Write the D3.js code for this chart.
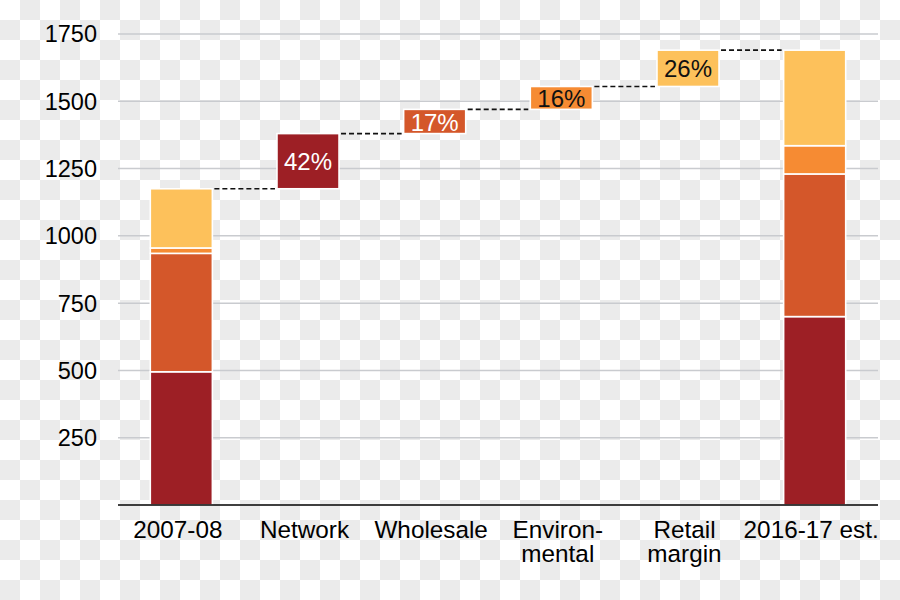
<!DOCTYPE html>
<html>
<head>
<meta charset="utf-8">
<script src="https://cdn.jsdelivr.net/npm/d3@7"></script>
<style>
  html, body { margin: 0; padding: 0; background: #fff; }
  svg { display: block; }
  text { font-family: "Liberation Sans", Arial, sans-serif; }
</style>
</head>
<body>
<svg id="chart" width="900" height="600"></svg>
<script>
// ---- Data ----
const categories = ["2007-08", "Network", "Wholesale", "Environ-\nmental", "Retail\nmargin", "2016-17 est."];
const components = ["Network", "Wholesale", "Environmental", "Retail margin"];
const startValues = [495, 440, 20, 220];   // 2007-08 stack
const endValues = [700, 530, 105, 355];    // 2016-17 est. stack
const shareLabels = ["42%", "17%", "16%", "26%"];
const yTicks = [250, 500, 750, 1000, 1250, 1500, 1750];
const colors = ["#9d1f25", "#d4572a", "#f68b33", "#fdc15b"];
const labelColors = ["#ffffff", "#ffffff", "#111111", "#111111"];

// ---- Layout ----
const W = 900, H = 600;
const margin = { left: 118, right: 22, top: 34, bottom: 95 };
const svg = d3.select("#chart");

// Checkerboard background (transparency pattern)
const defs = svg.append("defs");
const pat = defs.append("pattern").attr("id", "checker")
  .attr("width", 40).attr("height", 40).attr("patternUnits", "userSpaceOnUse");
pat.append("rect").attr("width", 40).attr("height", 40).attr("fill", "#ffffff");
pat.append("rect").attr("x", 20).attr("y", 0).attr("width", 20).attr("height", 20).attr("fill", "#ebebeb");
pat.append("rect").attr("x", 0).attr("y", 20).attr("width", 20).attr("height", 20).attr("fill", "#ebebeb");
svg.append("rect").attr("width", W).attr("height", H).attr("fill", "url(#checker)");

const x = d3.scaleBand().domain(categories)
  .range([margin.left, W - margin.right])
  .paddingInner(0.51).paddingOuter(0.255);
const y = d3.scaleLinear().domain([0, 1750]).range([H - margin.bottom, margin.top]);

// Gridlines
svg.append("g").selectAll("line").data(yTicks).join("line")
  .attr("x1", margin.left).attr("x2", W - margin.right)
  .attr("y1", d => y(d)).attr("y2", d => y(d))
  .attr("stroke", "#c9cbcf").attr("stroke-width", 1.5);

// Y tick labels
svg.append("g").selectAll("text").data(yTicks).join("text")
  .attr("x", 97).attr("y", d => y(d)).attr("dy", "0.36em")
  .attr("text-anchor", "end").attr("font-size", 23.5).attr("fill", "#000")
  .text(d => d);

// Stacked bars
function stack(vals) {
  let acc = 0;
  return vals.map((v, i) => { const s = { i, y0: acc, y1: acc + v }; acc += v; return s; });
}
const startStack = stack(startValues);
const endStack = stack(endValues);
const startTotal = d3.sum(startValues);

function drawStack(cat, segs) {
  svg.append("g").selectAll("rect").data(segs).join("rect")
    .attr("x", x(cat)).attr("width", x.bandwidth())
    .attr("y", d => y(d.y1)).attr("height", d => y(d.y0) - y(d.y1))
    .attr("fill", d => colors[d.i])
    .attr("stroke", "#ffffff").attr("stroke-width", 1.6);
}
drawStack(categories[0], startStack);
drawStack(categories[5], endStack);

// Waterfall steps
const deltas = components.map((c, i) => endValues[i] - startValues[i]);
let cum = startTotal;
const steps = deltas.map((d, i) => { const s = { i, y0: cum, y1: cum + d, cat: categories[i + 1] }; cum += d; return s; });

// Dashed connectors
const connectors = [];
connectors.push({ xa: x(categories[0]) + x.bandwidth(), xb: x(categories[1]), v: startTotal });
steps.forEach((s, k) => {
  const next = categories[k + 2];
  connectors.push({ xa: x(s.cat) + x.bandwidth(), xb: x(next), v: s.y1 });
});
svg.append("g").selectAll("line").data(connectors).join("line")
  .attr("x1", d => d.xa + 2).attr("x2", d => d.xb - 2)
  .attr("y1", d => y(d.v)).attr("y2", d => y(d.v))
  .attr("stroke", "#111").attr("stroke-width", 1.6).attr("stroke-dasharray", "5,3");

const stepG = svg.append("g").selectAll("g").data(steps).join("g");
stepG.append("rect")
  .attr("x", d => x(d.cat)).attr("width", x.bandwidth())
  .attr("y", d => y(d.y1)).attr("height", d => y(d.y0) - y(d.y1))
  .attr("fill", d => colors[d.i])
  .attr("stroke", "#ffffff").attr("stroke-width", 1.6);
stepG.append("text")
  .attr("x", d => x(d.cat) + x.bandwidth() / 2)
  .attr("y", d => (y(d.y0) + y(d.y1)) / 2).attr("dy", "0.38em")
  .attr("text-anchor", "middle").attr("font-size", 24)
  .attr("fill", d => labelColors[d.i])
  .text(d => shareLabels[d.i]);

// Baseline
svg.append("line")
  .attr("x1", margin.left).attr("x2", W - margin.right)
  .attr("y1", y(0)).attr("y2", y(0))
  .attr("stroke", "#000").attr("stroke-width", 1.5);

// X labels (each line as its own text element)
const labelLines = [];
categories.forEach(c => c.split("\n").forEach((l, i) => labelLines.push({ c, l, i })));
svg.append("g").selectAll("text").data(labelLines).join("text")
  .attr("x", d => x(d.c) + x.bandwidth() / 2 - 3.5)
  .attr("y", d => 538 + d.i * 23.5)
  .attr("text-anchor", "middle").attr("font-size", 24.3).attr("fill", "#000")
  .text(d => d.l);
</script>
</body>
</html>
